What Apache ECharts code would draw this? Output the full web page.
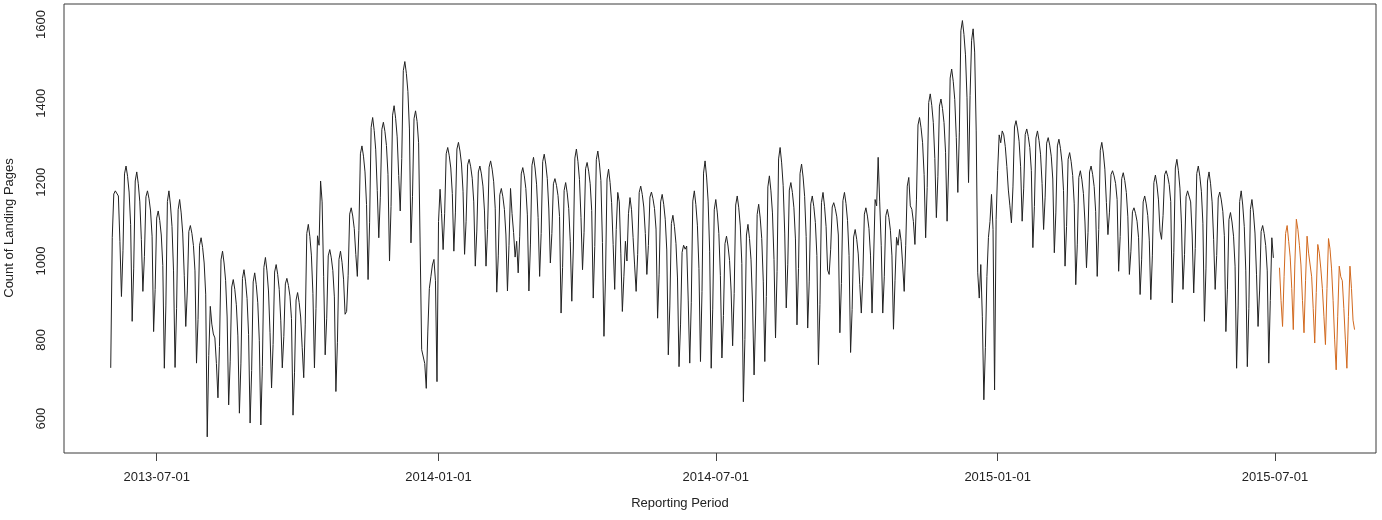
<!DOCTYPE html>
<html>
<head>
<meta charset="utf-8">
<script src="https://cdn.jsdelivr.net/npm/echarts@6/dist/echarts.min.js"></script>
<style>
html,body{margin:0;padding:0;background:#fff;}
#chart{width:1382px;height:520px;}
</style>
</head>
<body>
<div id="chart"></div>
<script>
// Observed daily counts, starting 2013-06-01
const observedStart = '2013-06-01';
const observedValues = [
729,1060,1170,1178,1178,1165,1050,
910,1026,1221,1241,1215,1175,1092,
847,980,1203,1226,1196,1150,1055,
923,1012,1163,1178,1158,1127,1063,
821,928,1109,1127,1103,1066,989,
728,886,1151,1178,1142,1088,975,
730,879,1130,1156,1122,1071,964,
834,924,1075,1090,1070,1039,975,
741,852,1040,1059,1034,995,916,
554,760,885,840,815,805,740,
653,783,1003,1025,995,951,858,
635,746,934,953,928,889,810,
614,741,956,978,949,905,814,
589,722,947,970,940,894,799,
584,733,984,1009,975,924,818,
678,788,972,991,966,928,850,
729,808,942,956,938,911,854,
609,718,901,920,895,858,780,
704,840,1070,1093,1062,1015,918,
729,880,1064,1040,1203,1150,960,
762,855,1013,1029,1008,976,909,
669,794,1004,1025,997,954,865,
872,964,1119,1135,1114,1082,1017,
961,1077,1272,1292,1266,1226,1143,
953,1097,1339,1364,1331,1282,1179,
1059,1162,1334,1352,1329,1293,1220,
1000,1138,1370,1394,1362,1315,1217,
1127,1260,1483,1506,1476,1430,1335,
1046,1163,1361,1381,1354,1300,1038,
775,770,740,677,820,930,960,
990,1004,950,694,1100,1182,1120,
1029,1120,1272,1288,1267,1236,1171,
1025,1122,1284,1301,1279,1246,1177,
1017,1101,1244,1258,1239,1210,1150,
987,1076,1226,1241,1221,1190,1127,
987,1080,1238,1254,1233,1201,1134,
921,1013,1168,1184,1163,1131,1066,
924,1040,1184,1120,1072,1010,1050,
970,1063,1221,1237,1216,1184,1117,
924,1043,1243,1263,1236,1195,1110,
961,1070,1252,1271,1246,1209,1132,
995,1070,1196,1209,1192,1166,1113,
868,984,1179,1199,1173,1133,1050,
898,1033,1261,1284,1253,1207,1110,
978,1073,1234,1250,1228,1196,1128,
906,1037,1257,1279,1249,1204,1047,
809,957,1208,1233,1199,1148,1042,
928,1080,1174,1150,1020,872,960,
1050,1000,1120,1161,1130,1060,990,
923,1016,1174,1190,1169,1137,1070,
966,1039,1162,1175,1158,1133,1081,
855,965,1150,1169,1144,1106,1028,
762,886,1095,1116,1088,1045,957,
732,840,1022,1040,1030,1038,901,
741,894,1152,1178,1143,1091,981,
745,923,1223,1254,1213,1152,1025,
728,878,1130,1156,1122,1070,963,
754,862,1044,1063,1038,1001,924,
785,918,1142,1165,1135,1089,994,
643,801,1066,1093,1057,1003,891,
711,863,1118,1144,1109,1057,949,
745,910,1188,1216,1178,1122,1004,
805,974,1259,1288,1249,1191,1071,
881,992,1180,1199,1174,1135,1056,
838,981,1222,1246,1213,1164,1062,
830,947,1145,1165,1138,1098,1014,
737,890,1148,1174,1139,1087,977,
966,1030,1137,1148,1133,1112,1066,
818,943,1153,1174,1146,1103,1014,
768,877,1061,1080,1055,1018,940,
868,961,1119,1135,1114,1082,1015,
868,1000,1156,1140,1263,1150,1040,
868,960,1115,1131,1110,1078,1013,
827,950,1060,1040,1080,1050,990,
923,1040,1190,1212,1140,1131,1100,
1042,1155,1345,1364,1338,1300,1219,
1059,1187,1402,1424,1395,1351,1260,
1110,1215,1393,1411,1387,1351,1276,
1101,1236,1464,1487,1456,1410,1313,
1174,1327,1584,1610,1575,1523,1414,
1199,1420,1560,1589,1530,1330,970,
906,991,860,648,780,961,1060,
1100,1169,1080,673,1106,1230,1320,
1300,1330,1320,1290,1240,1180,1140,
1097,1188,1340,1356,1335,1304,1239,
1101,1183,1321,1335,1316,1288,1230,
1034,1138,1312,1330,1306,1271,1197,
1080,1162,1299,1313,1294,1266,1208,
1021,1122,1292,1309,1286,1251,1179,
987,1088,1258,1275,1252,1217,1145,
940,1041,1212,1229,1206,1171,1099,
983,1073,1226,1241,1220,1189,1125,
961,1080,1281,1301,1274,1233,1148,
1067,1124,1219,1229,1216,1197,1156,
974,1062,1209,1224,1204,1174,1112,
966,1025,1125,1135,1121,1101,1059,
915,1003,1150,1165,1145,1115,1053,
902,1013,1199,1218,1193,1155,1076,
1055,1116,1219,1229,1215,1194,1151,
894,1021,1236,1258,1229,1185,1094,
928,1016,1163,1178,1178,1150,1066,
919,1032,1222,1241,1215,1177,1096,
847,980,1203,1226,1196,1150,1055,
928,1014,1160,1175,1155,1126,1064,
821,927,1105,1123,1099,1063,987,
728,886,1151,1178,1142,1088,975,
732,880,1131,1156,1122,1071,965,
834,924,1075,1090,1070,1039,975,
741,900,1059,1008
];

// Forecast daily counts, starting 2015-07-04
const forecastStart = '2015-07-04';
const forecastValues = [
983,900,834,960,1070,1090,1050,1010,930,826,
990,1106,1080,1040,990,900,818,950,1063,1020,
1025,960,880,792,920,1042,1020,980,930,860,
788,930,1057,1030,980,900,800,724,860,987,
960,950,880,800,728,860,987,930,850,826
];

const xTickDates = ['2013-07-01','2014-01-01','2014-07-01','2015-01-01','2015-07-01'];
const yTicks = [600, 800, 1000, 1200, 1400, 1600];

const DAY = 86400000;
function ms(s){ const p = s.split('-').map(Number); return Date.UTC(p[0], p[1]-1, p[2]); }
function toPairs(start, vals){ const t0 = ms(start); return vals.map((v,i)=>[t0 + i*DAY, v]); }
function fmt(v){ return new Date(v).toISOString().slice(0,10); }

const t0 = ms(observedStart);
const xMin = t0 - 30.5*DAY;
const xMax = t0 + 826.0*DAY;

const font = "'Liberation Sans', Arial, sans-serif";
const chart = echarts.init(document.getElementById('chart'), null, {renderer:'canvas'});
chart.setOption({
  animation: false,
  useUTC: true,
  backgroundColor: '#fff',
  grid: {left: 64, right: 6, top: 4, bottom: 67, show: true, borderColor: '#3a3a3a', borderWidth: 1, backgroundColor: 'transparent'},
  xAxis: {
    type: 'value', min: xMin, max: xMax,
    axisLine: {show: false},
    splitLine: {show: false},
    axisTick: {show: true, length: 8, inside: false, customValues: xTickDates.map(ms), lineStyle: {color: '#444', width: 1}},
    axisLabel: {customValues: xTickDates.map(ms), formatter: fmt, margin: 18, fontSize: 13, color: '#222', fontFamily: font}
  },
  yAxis: {
    type: 'value', min: 513, max: 1652,
    axisLine: {show: false},
    splitLine: {show: false},
    axisTick: {show: false},
    axisLabel: {customValues: yTicks, formatter: function (v) { return String(v); }, rotate: 90, margin: 16, fontSize: 13, color: '#222', fontFamily: font}
  },
  graphic: [
    {type: 'text', x: 9, y: 228, rotation: Math.PI/2, style: {text: 'Count of Landing Pages', font: '13px ' + font, fill: '#222', align: 'center', verticalAlign: 'middle'}},
    {type: 'text', x: 680, y: 503, style: {text: 'Reporting Period', font: '13px ' + font, fill: '#222', align: 'center', verticalAlign: 'middle'}}
  ],
  series: [
    {type: 'line', data: toPairs(observedStart, observedValues), showSymbol: false, silent: true,
     lineStyle: {color: '#222', width: 1}, itemStyle: {color: '#222'}},
    {type: 'line', data: toPairs(forecastStart, forecastValues), showSymbol: false, silent: true,
     lineStyle: {color: '#D2691E', width: 1}, itemStyle: {color: '#D2691E'}}
  ]
});
</script>
</body>
</html>
